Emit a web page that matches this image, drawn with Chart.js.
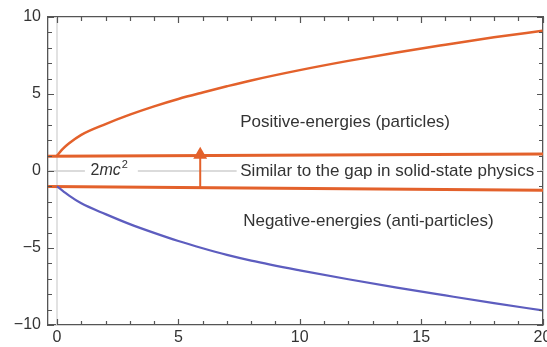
<!DOCTYPE html>
<html><head><meta charset="utf-8">
<script src="https://cdn.jsdelivr.net/npm/chart.js@4/dist/chart.umd.min.js"></script>
<style>html,body{margin:0;padding:0;background:#fff}</style>
</head><body><canvas id="c" width="547" height="347"></canvas>
<script>
// ---- data ----
const xTickValues = [0, 5, 10, 15, 20];
const yTickValues = [-10, -5, 0, 5, 10];
const momentum       = [0, 0.25, 0.5, 1, 2, 3, 4, 5, 6, 7, 8, 10, 12, 14, 16, 18, 20];
const positiveEnergy = [1.0, 1.45, 1.8, 2.35, 3.05, 3.66, 4.2, 4.68, 5.1, 5.5, 5.88, 6.55, 7.15, 7.7, 8.2, 8.68, 9.1];
const negativeEnergy = [-1.0, -1.3, -1.6, -2.1, -2.8, -3.45, -4.02, -4.55, -5.02, -5.45, -5.82, -6.45, -7.03, -7.57, -8.08, -8.58, -9.05];
const upperGapX = [-0.37, 20.02];
const upperGapY = [0.96, 1.1];
const lowerGapX = [-0.37, 20.02];
const lowerGapY = [-1.0, -1.25];
const zeroLineX = [-0.37, 1.15, null, 3.33, 7.4, null, 19.9, 20.02];
const zeroLineY = [0, 0, null, 0, 0, null, 0, 0];
const gapArrowX = [5.9, 5.9];
const gapArrowY = [-1.05, 1.05];
const axisLineX = [0, 0];
const axisLineY = [-10, 10];
const labelTexts = ['Positive-energies (particles)', 'Similar to the gap in solid-state physics', 'Negative-energies (anti-particles)'];
const labelX = [7.55, 7.55, 7.67];
const labelY = [3.15, 0, -3.28];

const ORANGE = '#e3612b', BLUE = '#5d5dbf', GREY = '#cfcfcf', AXIS = '#555', TXT = '#333';
const FONT = "'Liberation Sans', Arial, sans-serif";

const pts = (xs, ys) => xs.map((x, i) => (x === null ? {x: NaN, y: NaN} : {x, y: ys[i]}));

const inTicks = {
  id: 'inTicks',
  afterDraw(chart) {
    const {ctx, chartArea: a, scales: {x, y}} = chart;
    ctx.save();
    ctx.strokeStyle = AXIS; ctx.lineWidth = 1.2;
    ctx.beginPath();
    for (let v = 0; v <= 20; v++) {
      const px = Math.round(x.getPixelForValue(v)) + 0.5;
      const len = v % 5 === 0 ? 6 : 4;
      ctx.moveTo(px, a.bottom); ctx.lineTo(px, a.bottom - len);
      ctx.moveTo(px, a.top); ctx.lineTo(px, a.top + len);
    }
    for (let v = -10; v <= 10; v++) {
      const py = Math.round(y.getPixelForValue(v)) + 0.5;
      const len = v % 5 === 0 ? 6 : 4;
      ctx.moveTo(a.left, py); ctx.lineTo(a.left + len, py);
      ctx.moveTo(a.right, py); ctx.lineTo(a.right - len, py);
    }
    ctx.stroke();
    ctx.restore();
  }
};

const textLabels = {
  id: 'textLabels',
  afterDatasetsDraw(chart) {
    const {ctx, scales: {x, y}} = chart;
    ctx.save();
    ctx.fillStyle = TXT;
    ctx.textBaseline = 'middle';
    ctx.font = '17px ' + FONT;
    labelTexts.forEach((t, i) => {
      ctx.fillText(t, x.getPixelForValue(labelX[i]), y.getPixelForValue(labelY[i]));
    });
    // 2mc^2
    let px = x.getPixelForValue(1.38), py = y.getPixelForValue(0);
    ctx.font = '16px ' + FONT;
    ctx.fillText('2', px, py); px += ctx.measureText('2').width;
    ctx.font = 'italic 16px ' + FONT;
    ctx.fillText('mc', px, py); px += ctx.measureText('mc').width + 1;
    ctx.font = '11px ' + FONT;
    ctx.fillText('2', px, py - 6);
    ctx.restore();
  }
};

new Chart(document.getElementById('c'), {
  type: 'scatter',
  data: {
    datasets: [
      {data: pts(axisLineX, axisLineY), showLine: true, borderColor: '#e2e2e2', borderWidth: 2, pointRadius: 0, order: 6},
      {data: pts(zeroLineX, zeroLineY), showLine: true, spanGaps: false, borderColor: GREY, borderWidth: 1.3, pointRadius: 0, order: 5},
      {data: pts(upperGapX, upperGapY), showLine: true, borderColor: ORANGE, borderWidth: 3, pointRadius: 0, order: 4},
      {data: pts(lowerGapX, lowerGapY), showLine: true, borderColor: ORANGE, borderWidth: 3, pointRadius: 0, order: 4},
      {data: pts(momentum, positiveEnergy), showLine: true, borderColor: ORANGE, borderWidth: 2.5, pointRadius: 0, cubicInterpolationMode: 'monotone', order: 3},
      {data: pts(momentum, negativeEnergy), showLine: true, borderColor: BLUE, borderWidth: 2.2, pointRadius: 0, cubicInterpolationMode: 'monotone', order: 3},
      {data: pts(gapArrowX, gapArrowY), showLine: true, borderColor: ORANGE, borderWidth: 2, backgroundColor: ORANGE,
       pointStyle: 'triangle', pointRadius: [0, 8], pointBorderWidth: 0, order: 1}
    ]
  },
  options: {
    responsive: false, animation: false,
    layout: {autoPadding: false, padding: {top: 17, right: 4, left: 0, bottom: 0}},
    plugins: {legend: {display: false}, tooltip: {enabled: false}},
    elements: {line: {tension: 0}},
    scales: {
      x: {
        type: 'linear', position: 'bottom', min: -0.37, max: 20.02,
        afterBuildTicks: s => { s.ticks = xTickValues.map(v => ({value: v})); },
        grid: {display: false, drawTicks: false},
        border: {display: true, color: AXIS, width: 1.3},
        ticks: {color: TXT, font: {size: 16, family: FONT}, padding: 3, maxRotation: 0, autoSkip: false},
        afterFit: s => { s.height = 22; s.paddingLeft = 0; s.paddingRight = 0; }
      },
      y: {
        type: 'linear', position: 'left', min: -10, max: 10,
        afterBuildTicks: s => { s.ticks = yTickValues.map(v => ({value: v})); },
        grid: {display: false, drawTicks: false},
        border: {display: true, color: AXIS, width: 1.3},
        ticks: {color: TXT, font: {size: 16, family: FONT}, padding: 7,
                callback: v => String(v).replace('-', '\u2212')},
        afterFit: s => { s.width = 48; s.paddingTop = 0; s.paddingBottom = 0; }
      },
      x2: {
        type: 'linear', position: 'top', min: -0.37, max: 20.02,
        grid: {display: false, drawTicks: false},
        border: {display: true, color: AXIS, width: 1.3},
        ticks: {display: false},
        afterFit: s => { s.height = 0; s.paddingLeft = 0; s.paddingRight = 0; }
      },
      y2: {
        type: 'linear', position: 'right', min: -10, max: 10,
        grid: {display: false, drawTicks: false},
        border: {display: true, color: AXIS, width: 1.3},
        ticks: {display: false},
        afterFit: s => { s.width = 0; s.paddingTop = 0; s.paddingBottom = 0; }
      }
    }
  },
  plugins: [inTicks, textLabels]
});
</script>
</body></html>
